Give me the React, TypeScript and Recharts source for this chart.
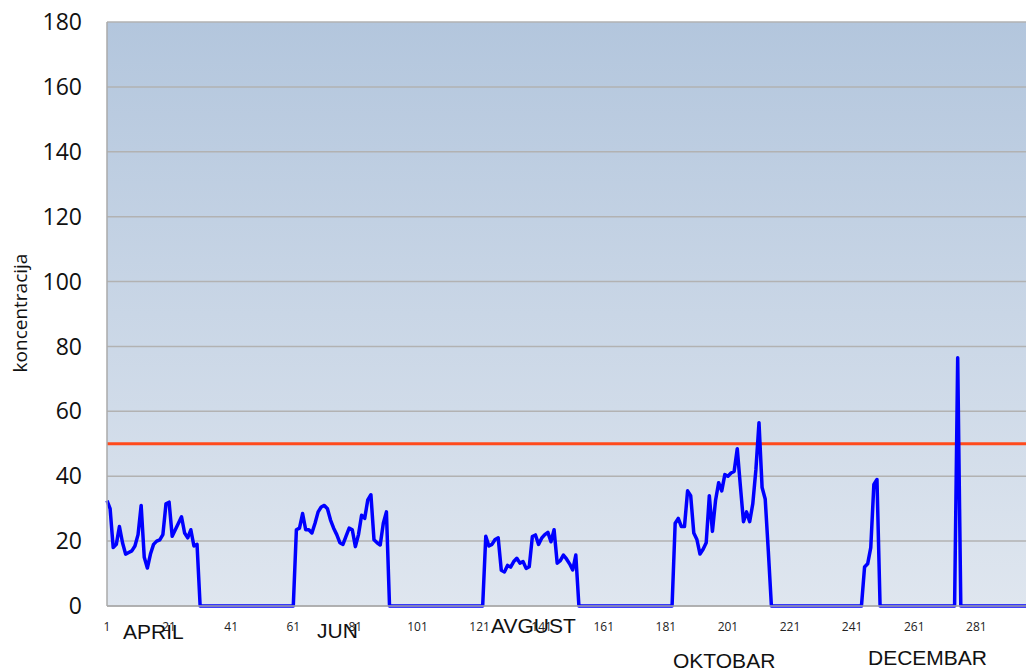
import { LineChart, Line, XAxis, YAxis, CartesianGrid, ReferenceLine } from "recharts";

// day index along the x axis (1..297)
const DAYS: number[] = Array.from({ length: 297 }, (_, i) => i + 1);

// measured concentration per day, 0 where no measurement
const CONC: number[] = [
  32.5, 30, 18, 19, 24.5, 19.5, 16, 16.5, 17, 18.5, 22, 31, 15, 11.7, 16, 19, 20, 20.4, 22, 31.5,
  32, 21.5, 23.5, 25.5, 27.5, 22.5, 21, 23.5, 18.5, 19,
  0, 0, 0, 0, 0, 0, 0, 0, 0, 0, 0, 0, 0, 0, 0, 0, 0, 0, 0, 0, 0, 0, 0, 0, 0, 0, 0, 0, 0, 0, 0,
  23.5, 24, 28.5, 23.5, 23.5, 22.5, 25.5, 29, 30.5, 31, 30, 26.5, 24, 22, 19.5, 19, 21.5, 24, 23.5, 18.3,
  22, 28, 27, 32.7, 34.3, 20.4, 19.5, 18.8, 25.5, 29,
  0, 0, 0, 0, 0, 0, 0, 0, 0, 0, 0, 0, 0, 0, 0, 0, 0, 0, 0, 0, 0, 0, 0, 0, 0, 0, 0, 0, 0, 0, 0,
  21.5, 18.5, 19, 20.5, 21, 11, 10.5, 12.5, 12, 13.7, 14.7, 13.2, 13.7, 11.6, 12.1, 21.4, 21.9, 19, 20.9, 22,
  22.7, 19.8, 23.5, 13.2, 14, 15.7, 14.5, 13, 11.1, 15.7,
  0, 0, 0, 0, 0, 0, 0, 0, 0, 0, 0, 0, 0, 0, 0, 0, 0, 0, 0, 0, 0, 0, 0, 0, 0, 0, 0, 0, 0, 0, 0,
  25.5, 27, 24.5, 24.5, 35.5, 34, 22.5, 20.5, 16, 17.5, 19.5, 34, 23, 32.5, 38, 35.5, 40.5, 40, 41, 41.5,
  48.5, 37, 26, 29, 26, 31.5, 42, 56.5, 36.5, 33, 17,
  0, 0, 0, 0, 0, 0, 0, 0, 0, 0, 0, 0, 0, 0, 0, 0, 0, 0, 0, 0, 0, 0, 0, 0, 0, 0, 0, 0, 0, 0,
  12, 13, 18, 37.5, 39,
  0, 0, 0, 0, 0, 0, 0, 0, 0, 0, 0, 0, 0, 0, 0, 0, 0, 0, 0, 0, 0, 0, 0, 0, 0,
  76.5,
  0, 0, 0, 0, 0, 0, 0, 0, 0, 0, 0, 0, 0, 0, 0, 0, 0, 0, 0, 0, 0, 0,
];

const LIMIT = 50;

const X_TICKS = [1, 21, 41, 61, 81, 101, 121, 141, 161, 181, 201, 221, 241, 261, 281];
const Y_TICKS = [0, 20, 40, 60, 80, 100, 120, 140, 160, 180];

const MONTHS = ["APRIL", "JUN", "AVGUST", "OKTOBAR", "DECEMBAR"];
const MONTH_POS = [
  { x: 123, y: 639 },
  { x: 317, y: 638 },
  { x: 491, y: 633 },
  { x: 673, y: 668 },
  { x: 868, y: 665 },
];

const chartData = DAYS.map((d, i) => ({ day: d, value: CONC[i] }));

const W = 1026;
const H = 671;

export default function App() {
  return (
    <div style={{ position: "absolute", left: 0, top: 0, width: W, height: H, background: "#fff" }}>
      <LineChart
        width={W}
        height={H}
        data={chartData}
        margin={{ top: 22, right: 0, left: 0, bottom: 35 }}
      >
        <defs>
          <linearGradient id="plotBg" x1="0" y1="0" x2="0" y2="1">
            <stop offset="0%" stopColor="#b3c6dd" />
            <stop offset="100%" stopColor="#dfe6ef" />
          </linearGradient>
        </defs>
        <CartesianGrid
          vertical={false}
          fill="url(#plotBg)"
          fillOpacity={1}
          stroke="#b2b2b2"
          strokeWidth={1.5}
        />
        <XAxis
          dataKey="day"
          type="category"
          ticks={X_TICKS}
          interval={0}
          tickLine={false}
          tickSize={0}
          tickMargin={16}
          axisLine={{ stroke: "#aaaaaa", strokeWidth: 1.5 }}
          height={30}
          tick={{ fill: "#222", fontSize: 12, fontFamily: "'Open Sans', sans-serif" }}
        />
        <YAxis
          domain={[0, 180]}
          ticks={Y_TICKS}
          width={107}
          tickLine={false}
          tickSize={0}
          tickMargin={25}
          axisLine={{ stroke: "#aaaaaa", strokeWidth: 1.5 }}
          tick={{ fill: "#111", fontSize: 23, fontFamily: "'Open Sans', sans-serif" }}
        />
        <ReferenceLine y={LIMIT} stroke="#ff4a1c" strokeWidth={3} ifOverflow="visible" />
        <Line
          type="linear"
          dataKey="value"
          stroke="#0000ff"
          strokeWidth={3.5}
          dot={false}
          activeDot={false}
          isAnimationActive={false}
          strokeLinejoin="round"
        />
      </LineChart>
      <svg
        width={W}
        height={H}
        style={{ position: "absolute", left: 0, top: 0, pointerEvents: "none" }}
      >
        <text
          transform="translate(27,313) rotate(-90)"
          textAnchor="middle"
          fontFamily="'Open Sans', sans-serif"
          fontSize={19}
          fill="#111"
        >
          koncentracija
        </text>
        {MONTHS.map((m, i) => (
          <text
            key={m}
            x={MONTH_POS[i].x}
            y={MONTH_POS[i].y}
            fontFamily="'Liberation Sans', Arial, sans-serif"
            fontSize={21}
            fill="#111"
          >
            {m}
          </text>
        ))}
      </svg>
    </div>
  );
}
